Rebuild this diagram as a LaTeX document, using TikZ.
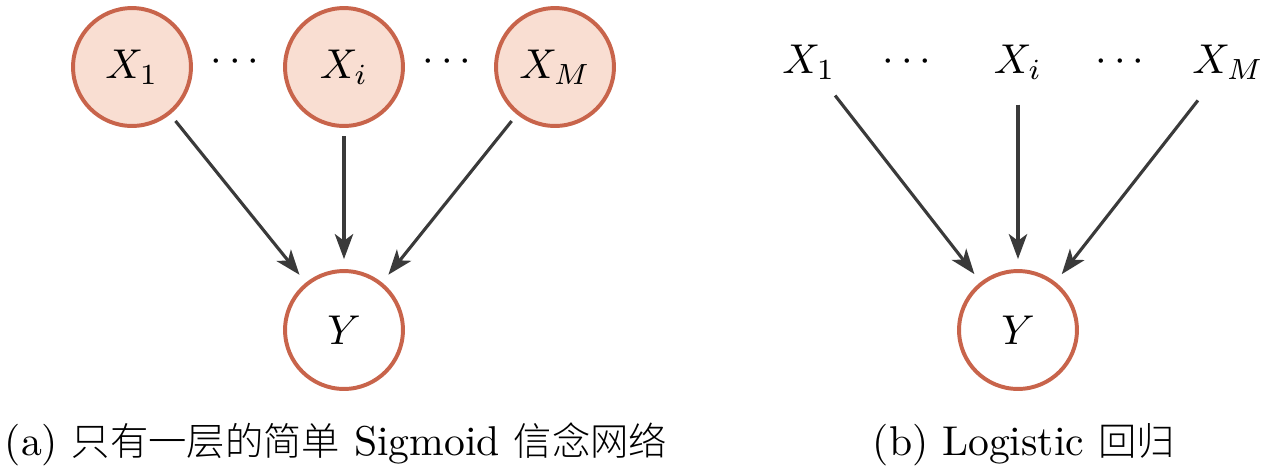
\documentclass[tikz,border=0pt]{standalone}
\usepackage{fontspec}
\newfontfamily\cjk[Scale=0.92]{Noto Sans CJK SC Light}
\usetikzlibrary{arrows.meta}
\definecolor{nodeline}{RGB}{200,100,75}
\definecolor{nodefill}{RGB}{249,222,210}
\definecolor{arrowcol}{RGB}{58,58,58}
\begin{document}
\begin{tikzpicture}[x=0.24pt,y=-0.24pt,
  obs/.style={circle,draw=nodeline,fill=nodefill,line width=0.95pt,minimum size=28.3pt,inner sep=0pt},
  hid/.style={circle,draw=nodeline,fill=white,line width=0.95pt,minimum size=28.3pt,inner sep=0pt},
  plain/.style={circle,inner sep=0pt,minimum size=16pt},
  dotsnode/.style={inner sep=0pt},
  edge/.style={draw=arrowcol,line width=0.75pt,-{Stealth[length=6pt,width=4.4pt,inset=1.6pt]},shorten <=2pt,shorten >=2.4pt},
  captext/.style={anchor=base west,inner sep=0pt}]
\useasboundingbox (0,0) rectangle (1271,475);
% (a)
\node[obs] (a1) at (132,67) {$X_1$};
\node[obs] (ai) at (344,67) {$X_i$};
\node[obs] (aM) at (555,67) {$X_M$};
\node[hid] (aY) at (344,330) {$Y$};
\node[dotsnode] (ad1) at (235,62) {$\cdots$};
\node[dotsnode] (ad2) at (447,62) {$\cdots$};
\draw[edge] (a1) -- (aY);
\draw[edge] (ai) -- (aY);
\draw[edge] (aM) -- (aY);
% (b)
\node[plain] (b1) at (809,62) {$X_1$};
\node[plain] (bi) at (1018,62) {$X_i$};
\node[plain] (bM) at (1228,62) {$X_M$};
\node[hid] (bY) at (1018,330) {$Y$};
\node[dotsnode] (bd1) at (907,62) {$\cdots$};
\node[dotsnode] (bd2) at (1120,62) {$\cdots$};
\draw[edge] (b1) -- (bY);
\draw[edge] (bi) -- (bY);
\draw[edge] (bM) -- (bY);
% captions
\node[captext] (capa) at (4,455) {(a) {\cjk 只有一层的简单} Sigmoid {\cjk 信念网络}};
\node[captext] (capb) at (872,455) {(b) Logistic {\cjk 回归}};
\end{tikzpicture}
\end{document}
